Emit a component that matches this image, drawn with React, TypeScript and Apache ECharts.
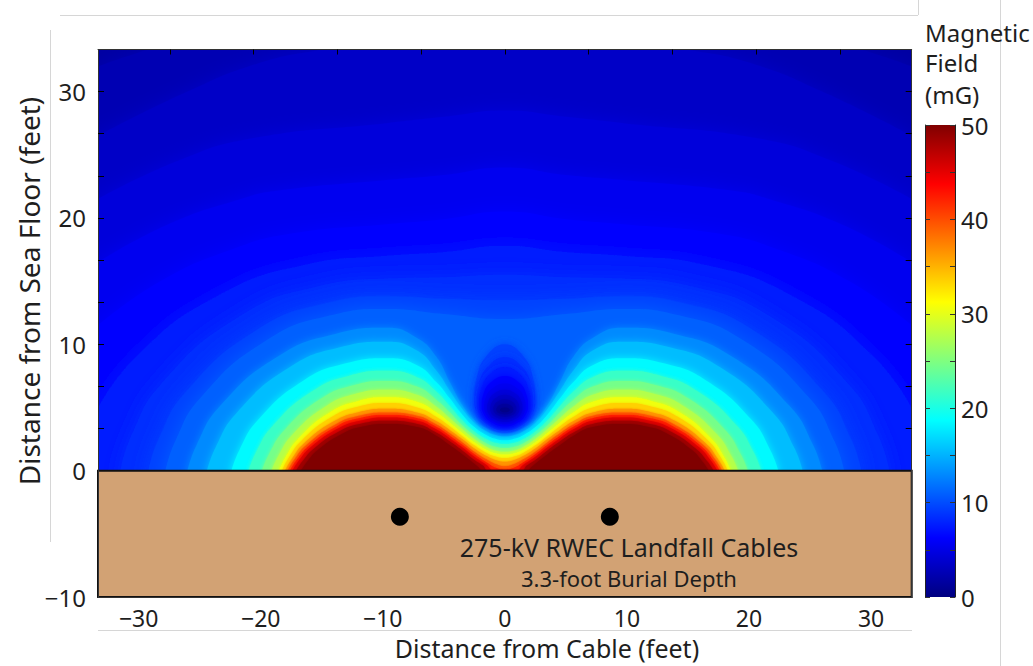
import React, { useEffect, useRef } from "react";
import * as echarts from "echarts";

// ---------- axes ----------
const X_MIN = -33.33;
const X_MAX = 33.33;
const Y_MIN = -10;
const Y_MAX = 33.33;
const xLabelValues = [-30, -20, -10, 0, 10, 20, 30];
const xTickValues = [-27.44, -20.58, -13.72, -6.86, 0, 6.86, 13.72, 20.58, 27.44];
const yLabelValues = [-10, 0, 10, 20, 30];
const yTickValues = [3.333, 6.667, 10, 13.333, 16.667, 20, 23.333, 26.667, 30];
const FIELD_MAX = 50;
const backgroundLevel = 1.7;

// ---------- field contours (mG): [x ft, y ft] ----------
const contourLevels = [2, 3, 4, 5, 6, 7, 8, 9, 10, 12, 14, 17, 20, 23, 26, 29, 32, 35, 38, 41, 44, 47, 50];

const contour2 = [[-33.33, 32], [-30, 33.1], [-28, 33.6], [-20, 36], [0, 38], [20, 36], [28, 33.6], [30, 33.1], [33.33, 32]];
const contour3 = [[-33.33, 26.5], [-26, 30], [-20, 32.3], [-15, 33.33], [-9.7, 34.3], [0, 35], [9.7, 34.3], [15, 33.33], [20, 32.3], [26, 30], [33.33, 26.5]];
const contour4 = [[-33.33, 21.5], [-26.83, 24.5], [-20.7, 26.3], [-9.7, 27.5], [-5, 28], [0, 28.5], [5, 28], [9.7, 27.5], [20.7, 26.3], [26.83, 24.5], [33.33, 21.5]];
const contour5 = [[-33.33, 16.5], [-27.57, 19.5], [-21.63, 21.5], [-18.71, 22.15], [-9.7, 23], [-5, 23.4], [0, 24], [5, 23.4], [9.7, 23], [18.71, 22.15], [21.63, 21.5], [27.57, 19.5], [33.33, 16.5]];
const contour6 = [[-33.33, 11.5], [-28.19, 15], [-22.39, 17.5], [-17.5, 18.76], [-9.7, 19.5], [-5, 19.9], [0, 20.5], [5, 19.9], [9.7, 19.5], [17.5, 18.76], [22.39, 17.5], [28.19, 15], [33.33, 11.5]];
const contour7 = [[-33.33, 5], [-30.24, 9], [-23.99, 13.6], [-16.19, 16.34], [-9.7, 17], [-5, 17.3], [0, 17.8], [5, 17.3], [9.7, 17], [16.19, 16.34], [23.99, 13.6], [30.24, 9], [33.33, 5]];
const contour8 = [[-31.5, 0], [-30.61, 2.74], [-28.17, 6.84], [-21.81, 12.16], [-15.25, 14.6], [-9.7, 15.2], [-5, 15.3], [0, 15.5], [5, 15.3], [9.7, 15.2], [15.25, 14.6], [21.81, 12.16], [28.17, 6.84], [30.61, 2.74], [31.5, 0]];
const contour9 = [[-29.2, 0], [-28.37, 2.48], [-26.16, 6.21], [-20.47, 11.04], [-14.68, 13.24], [-9.7, 13.8], [-5, 13.6], [0, 13.5], [5, 13.6], [9.7, 13.8], [14.68, 13.24], [20.47, 11.04], [26.16, 6.21], [28.37, 2.48], [29.2, 0]];
const contour10 = [[-27.8, 0], [-27.01, 2.3], [-24.93, 5.76], [-19.65, 10.24], [-14.34, 12.28], [-9.7, 12.8], [-5, 12.4], [0, 12.0], [5, 12.4], [9.7, 12.8], [14.34, 12.28], [19.65, 10.24], [24.93, 5.76], [27.01, 2.3], [27.8, 0]];
const contour12 = [[-26, 0], [-25.25, 2.03], [-23.35, 5.09], [-18.6, 9.04], [-13.9, 10.82], [-9.7, 11.3], [-7.2, 10.5], [-5.6, 9.0], [-4.5, 7.0], [-3.5, 5.2], [-2.5, 4.0], [-1.5, 3.35], [-0.7, 3.05], [0, 2.95], [0.7, 3.05], [1.5, 3.35], [2.5, 4.0], [3.5, 5.2], [4.5, 7.0], [5.6, 9.0], [7.2, 10.5], [9.7, 11.3], [13.9, 10.82], [18.6, 9.04], [23.35, 5.09], [25.25, 2.03], [26, 0]];
const contour14 = [[-24.4, 0], [-23.7, 1.84], [-21.96, 4.59], [-17.67, 8.16], [-13.51, 9.76], [-9.7, 10.2], [-7.2, 9.5], [-5.6, 7.9], [-4.5, 6.3], [-3.5, 4.9], [-2.5, 3.8], [-1.5, 3.1], [-0.7, 2.8], [0, 2.7], [0.7, 2.8], [1.5, 3.1], [2.5, 3.8], [3.5, 4.9], [4.5, 6.3], [5.6, 7.9], [7.2, 9.5], [9.7, 10.2], [13.51, 9.76], [17.67, 8.16], [21.96, 4.59], [23.7, 1.84], [24.4, 0]];
const contour17 = [[-22.4, 0], [-21.76, 1.6], [-20.23, 4.0], [-16.52, 7.12], [-13.02, 8.5], [-9.7, 8.9], [-7.2, 8.35], [-5.6, 7.0], [-4.5, 5.7], [-3.5, 4.45], [-2.5, 3.45], [-1.5, 2.8], [-0.7, 2.5], [0, 2.4], [0.7, 2.5], [1.5, 2.8], [2.5, 3.45], [3.5, 4.45], [4.5, 5.7], [5.6, 7.0], [7.2, 8.35], [9.7, 8.9], [13.02, 8.5], [16.52, 7.12], [20.23, 4.0], [21.76, 1.6], [22.4, 0]];
const contour20 = [[-21, 0], [-20.41, 1.42], [-19.01, 3.56], [-15.72, 6.32], [-12.68, 7.53], [-9.7, 7.9], [-7.2, 7.4], [-5.6, 6.25], [-4.5, 5.1], [-3.5, 4.0], [-2.5, 3.1], [-1.5, 2.48], [-0.7, 2.18], [0, 2.1], [0.7, 2.18], [1.5, 2.48], [2.5, 3.1], [3.5, 4.0], [4.5, 5.1], [5.6, 6.25], [7.2, 7.4], [9.7, 7.9], [12.68, 7.53], [15.72, 6.32], [19.01, 3.56], [20.41, 1.42], [21, 0]];
const contour23 = [[-19.9, 0], [-19.34, 1.28], [-18.06, 3.2], [-15.09, 5.68], [-12.41, 6.76], [-9.7, 7.1], [-7.2, 6.65], [-5.6, 5.6], [-4.5, 4.6], [-3.5, 3.6], [-2.5, 2.8], [-1.5, 2.15], [-0.7, 1.88], [0, 1.8], [0.7, 1.88], [1.5, 2.15], [2.5, 2.8], [3.5, 3.6], [4.5, 4.6], [5.6, 5.6], [7.2, 6.65], [9.7, 7.1], [12.41, 6.76], [15.09, 5.68], [18.06, 3.2], [19.34, 1.28], [19.9, 0]];
const contour26 = [[-19.1, 0], [-18.56, 1.15], [-17.37, 2.88], [-14.63, 5.12], [-12.22, 6.08], [-9.7, 6.4], [-7.2, 6.0], [-5.6, 5.05], [-4.5, 4.15], [-3.5, 3.3], [-2.5, 2.5], [-1.5, 1.88], [-0.7, 1.58], [0, 1.5], [0.7, 1.58], [1.5, 1.88], [2.5, 2.5], [3.5, 3.3], [4.5, 4.15], [5.6, 5.05], [7.2, 6.0], [9.7, 6.4], [12.22, 6.08], [14.63, 5.12], [17.37, 2.88], [18.56, 1.15], [19.1, 0]];
const contour29 = [[-18.5, 0], [-17.99, 1.04], [-16.85, 2.61], [-14.29, 4.64], [-12.08, 5.5], [-9.7, 5.8], [-7.2, 5.45], [-5.6, 4.6], [-4.5, 3.8], [-3.5, 3.0], [-2.5, 2.25], [-1.5, 1.65], [-0.7, 1.36], [0, 1.28], [0.7, 1.36], [1.5, 1.65], [2.5, 2.25], [3.5, 3.0], [4.5, 3.8], [5.6, 4.6], [7.2, 5.45], [9.7, 5.8], [12.08, 5.5], [14.29, 4.64], [16.85, 2.61], [17.99, 1.04], [18.5, 0]];
const contour32 = [[-18.25, 0], [-17.74, 0.96], [-16.62, 2.41], [-14.13, 4.28], [-12.04, 5.06], [-9.7, 5.35], [-7.2, 5.0], [-5.6, 4.25], [-4.5, 3.5], [-3.5, 2.75], [-2.5, 2.0], [-1.5, 1.4], [-0.7, 1.1], [0, 1.0], [0.7, 1.1], [1.5, 1.4], [2.5, 2.0], [3.5, 2.75], [4.5, 3.5], [5.6, 4.25], [7.2, 5.0], [9.7, 5.35], [12.04, 5.06], [14.13, 4.28], [16.62, 2.41], [17.74, 0.96], [18.25, 0]];
const contour35 = [[-18, 0], [-17.48, 0.88], [-16.4, 2.2], [-13.97, 3.92], [-11.99, 4.63], [-9.7, 4.9], [-7.2, 4.6], [-5.6, 3.9], [-4.5, 3.2], [-3.5, 2.5], [-2.5, 1.75], [-1.5, 1.15], [-0.7, 0.82], [0, 0.7], [0.7, 0.82], [1.5, 1.15], [2.5, 1.75], [3.5, 2.5], [4.5, 3.2], [5.6, 3.9], [7.2, 4.6], [9.7, 4.9], [11.99, 4.63], [13.97, 3.92], [16.4, 2.2], [17.48, 0.88], [18, 0]];
const contour38 = [[-17.8, 0], [-17.29, 0.83], [-16.22, 2.07], [-13.85, 3.68], [-11.96, 4.34], [-9.7, 4.6], [-7.2, 4.35], [-5.6, 3.65], [-4.5, 2.95], [-3.5, 2.25], [-2.5, 1.5], [-1.5, 0.9], [-0.7, 0.5], [0, 0.35], [0.7, 0.5], [1.5, 0.9], [2.5, 1.5], [3.5, 2.25], [4.5, 2.95], [5.6, 3.65], [7.2, 4.35], [9.7, 4.6], [11.96, 4.34], [13.85, 3.68], [16.22, 2.07], [17.29, 0.83], [17.8, 0]];
const contour41 = [[-17.6, 0], [-17.1, 0.79], [-16.04, 1.98], [-13.74, 3.52], [-11.91, 4.14], [-9.7, 4.4], [-7.2, 4.15], [-5.6, 3.45], [-4.5, 2.75], [-3.5, 2.05], [-2.5, 1.3], [-1.5, 0.65], [-0.7, 0.2], [0, 0.05], [0.7, 0.2], [1.5, 0.65], [2.5, 1.3], [3.5, 2.05], [4.5, 2.75], [5.6, 3.45], [7.2, 4.15], [9.7, 4.4], [11.91, 4.14], [13.74, 3.52], [16.04, 1.98], [17.1, 0.79], [17.6, 0]];
const contour44 = [[-17.4, 0], [-16.9, 0.76], [-15.86, 1.89], [-13.62, 3.36], [-11.87, 3.95], [-9.7, 4.2], [-7.2, 3.95], [-5.6, 3.25], [-4.5, 2.55], [-3.5, 1.85], [-2.5, 1.1], [-1.5, 0.45], [-0.9, 0], [0, 0], [0.9, 0], [1.5, 0.45], [2.5, 1.1], [3.5, 1.85], [4.5, 2.55], [5.6, 3.25], [7.2, 3.95], [9.7, 4.2], [11.87, 3.95], [13.62, 3.36], [15.86, 1.89], [16.9, 0.76], [17.4, 0]];
const contour47 = [[-17.1, 0], [-16.61, 0.71], [-15.6, 1.78], [-13.46, 3.16], [-11.8, 3.71], [-9.7, 3.95], [-7.2, 3.7], [-5.6, 3.0], [-4.5, 2.3], [-3.5, 1.6], [-2.5, 0.85], [-1.8, 0.4], [-1.4, 0], [0, 0], [1.4, 0], [1.8, 0.4], [2.5, 0.85], [3.5, 1.6], [4.5, 2.3], [5.6, 3.0], [7.2, 3.7], [9.7, 3.95], [11.8, 3.71], [13.46, 3.16], [15.6, 1.78], [16.61, 0.71], [17.1, 0]];
const contour50 = [[-16.7, 0], [-16.23, 0.67], [-15.27, 1.67], [-13.23, 2.96], [-11.71, 3.47], [-9.7, 3.7], [-7.2, 3.45], [-5.6, 2.75], [-4.5, 2.0], [-3.5, 1.3], [-2.5, 0.55], [-2.2, 0.3], [-1.8, 0], [0, 0], [1.8, 0], [2.2, 0.3], [2.5, 0.55], [3.5, 1.3], [4.5, 2.0], [5.6, 2.75], [7.2, 3.45], [9.7, 3.7], [11.71, 3.47], [13.23, 2.96], [15.27, 1.67], [16.23, 0.67], [16.7, 0]];

const contourLines = [contour2, contour3, contour4, contour5, contour6, contour7, contour8, contour9, contour10, contour12, contour14, contour17, contour20, contour23, contour26, contour29, contour32, contour35, contour38, contour41, contour44, contour47, contour50];

// ---------- low-field pocket above the cables (closed contours around the null) ----------
const holeLevels = [10, 9, 8, 7, 6, 5, 4, 3, 2, 1];
const holeBottom = [3.2, 3.3, 3.4, 3.5, 3.65, 3.85, 4.05, 4.25, 4.45, 4.62];
const holeTop = [10, 9, 8.2, 7.5, 6.9, 6.4, 6.0, 5.65, 5.3, 5.0];
const holeHalfWidth = [2.5, 2.3, 2.1, 1.9, 1.7, 1.45, 1.2, 0.95, 0.7, 0.4];
const holeWidestAt = [5.6, 5.4, 5.3, 5.15, 5.05, 4.95, 4.9, 4.85, 4.82, 4.8];
const holeCenterX = 0;

// ---------- sea floor / cables ----------
const soilTop = 0;
const soilBottom = -10;
const cablePositions = [[-8.6, -3.65], [8.6, -3.65]];

const FONT = "'Noto Sans', 'Open Sans', sans-serif";
const TEXT = "#1e1e1e";
const SOIL = "#d2a274";

function jet(v: number): string {
  const t = Math.max(0, Math.min(1, v / FIELD_MAX));
  const c = (x: number) => Math.max(0, Math.min(1, 1.5 - Math.abs(x)));
  const r = c(4 * t - 3);
  const g = c(4 * t - 2);
  const b = c(4 * t - 1);
  return `rgb(${Math.round(r * 255)},${Math.round(g * 255)},${Math.round(b * 255)})`;
}

const jetStops = [0, 0.125, 0.375, 0.625, 0.875, 1].map((t) => ({ offset: t, color: jet(t * FIELD_MAX) }));

const minusFmt = (v: number) => (v < 0 ? "\u2212" + Math.abs(v) : String(v));

function featherFor(level: number): number {
  if (level <= 10) return 18;
  if (level <= 17) return 8;
  if (level <= 29) return 4;
  return 2;
}

function buildOption(): any {
  const areaSeries = contourLevels.map((L, i) => {
    const next = i + 1 < contourLevels.length ? contourLevels[i + 1] : FIELD_MAX;
    const col = jet(i + 1 < contourLevels.length ? (L + next) / 2 : FIELD_MAX);
    return {
      type: "line",
      xAxisIndex: 0,
      yAxisIndex: 0,
      data: contourLines[i],
      smooth: 0.5,
      symbol: "none",
      silent: true,
      clip: true,
      z: 2,
      itemStyle: { color: col },
      lineStyle: { width: 0, color: col },
      areaStyle: { color: col, opacity: 1, origin: "start", shadowBlur: featherFor(L), shadowColor: col },
    };
  });

  const holeData = holeLevels.map((L, i) => [holeBottom[i], holeTop[i], holeHalfWidth[i], holeWidestAt[i], L]);

  const holeSeries = {
    type: "custom",
    xAxisIndex: 0,
    yAxisIndex: 0,
    silent: true,
    clip: true,
    z: 3,
    data: holeData,
    encode: { x: -1, y: -1 },
    renderItem: (params: any, api: any) => {
      const yb = api.value(0);
      const yt = api.value(1);
      const w = api.value(2);
      const yw = api.value(3);
      const L = api.value(4);
      const cx = holeCenterX;
      const left = [
        [cx, yb],
        [cx - 0.66 * w, yb + 0.25 * (yw - yb)],
        [cx - 0.94 * w, yb + 0.65 * (yw - yb)],
        [cx - w, yw],
        [cx - 0.94 * w, yw + 0.35 * (yt - yw)],
        [cx - 0.66 * w, yw + 0.75 * (yt - yw)],
        [cx, yt],
      ];
      const right = left.slice(1, -1).reverse().map(([x, y]) => [2 * cx - x, y]);
      const pts = [...left, ...right].map((p) => api.coord(p));
      const col = jet(L - 0.5);
      return {
        type: "polygon",
        shape: { points: pts, smooth: 0.45 },
        style: { fill: col, stroke: null, shadowBlur: L >= 6 ? 8 : 5, shadowColor: col },
      };
    },
  };

  const soilSeries = {
    type: "custom",
    xAxisIndex: 0,
    yAxisIndex: 0,
    silent: true,
    z: 4,
    data: [[X_MIN, soilBottom, X_MAX, soilTop]],
    encode: { x: -1, y: -1 },
    renderItem: (params: any, api: any) => {
      const p1 = api.coord([api.value(0), api.value(3)]);
      const p2 = api.coord([api.value(2), api.value(1)]);
      return {
        type: "rect",
        shape: { x: p1[0], y: p1[1], width: p2[0] - p1[0], height: p2[1] - p1[1] },
        style: { fill: SOIL, stroke: "#111", lineWidth: 2 },
      };
    },
  };

  const cableSeries = {
    type: "scatter",
    xAxisIndex: 0,
    yAxisIndex: 0,
    data: cablePositions,
    symbol: "circle",
    symbolSize: 18,
    itemStyle: { color: "#000", opacity: 1 },
    silent: true,
    z: 6,
  };

  const colorbarSeries = {
    type: "bar",
    xAxisIndex: 2,
    yAxisIndex: 2,
    data: [FIELD_MAX],
    barWidth: "100%",
    silent: true,
    itemStyle: { color: new echarts.graphic.LinearGradient(0, 1, 0, 0, jetStops) },
    z: 2,
  };

  const frameLine = { show: true, onZero: false, lineStyle: { color: "#333", width: 1 } };
  const tickStyle = { color: "#000", width: 1 };
  const labelStyle = { fontSize: 23, color: TEXT, fontFamily: FONT };

  const grayLine = (x1: number, y1: number, x2: number, y2: number) => ({
    type: "line",
    shape: { x1, y1, x2, y2 },
    style: { stroke: "#d6d6d6", lineWidth: 1 },
    silent: true,
    z: 0,
  });

  const textEl = (text: string, x: number, y: number, fontSize: number, align: string, rotation = 0) => ({
    type: "text",
    x,
    y,
    rotation,
    silent: true,
    z: 20,
    style: { text, fontSize, fontFamily: FONT, fill: TEXT, align, verticalAlign: "middle" },
  });

  return {
    animation: false,
    backgroundColor: "#ffffff",
    textStyle: { fontFamily: FONT },
    grid: [
      { left: 98, top: 49.5, width: 813.7, height: 547.5, show: true, backgroundColor: jet(backgroundLevel), borderWidth: 0 },
      { left: 925, top: 125, width: 30, height: 472 },
    ],
    xAxis: [
      {
        gridIndex: 0,
        type: "value",
        min: X_MIN,
        max: X_MAX,
        position: "bottom",
        z: 10,
        axisLine: frameLine,
        axisTick: { show: false },
        splitLine: { show: false },
        axisLabel: { ...labelStyle, margin: 9, customValues: xLabelValues, formatter: minusFmt },
      },
      {
        gridIndex: 0,
        type: "value",
        min: X_MIN,
        max: X_MAX,
        position: "top",
        z: 10,
        axisLine: frameLine,
        axisTick: { show: true, inside: true, length: 5, lineStyle: tickStyle, customValues: xTickValues },
        axisLabel: { show: false },
        splitLine: { show: false },
      },
      {
        gridIndex: 1,
        type: "category",
        data: [""],
        show: false,
      },
    ],
    yAxis: [
      {
        gridIndex: 0,
        type: "value",
        min: Y_MIN,
        max: Y_MAX,
        position: "left",
        z: 10,
        axisLine: frameLine,
        axisTick: { show: true, inside: true, length: 6, lineStyle: tickStyle, customValues: yTickValues },
        axisLabel: { ...labelStyle, fontSize: 24, margin: 12, customValues: yLabelValues, formatter: minusFmt },
        splitLine: { show: false },
      },
      {
        gridIndex: 0,
        type: "value",
        min: Y_MIN,
        max: Y_MAX,
        position: "right",
        z: 10,
        axisLine: frameLine,
        axisTick: { show: true, inside: true, length: 6, lineStyle: tickStyle, customValues: yTickValues },
        axisLabel: { show: false },
        splitLine: { show: false },
      },
      {
        gridIndex: 1,
        type: "value",
        min: 0,
        max: FIELD_MAX,
        interval: 5,
        position: "right",
        z: 10,
        axisLine: { show: true, onZero: false, lineStyle: { color: "#222", width: 1 } },
        axisTick: { show: true, inside: true, length: 5, lineStyle: { color: "#333", width: 1 } },
        axisLabel: { ...labelStyle, fontSize: 24, margin: 6, formatter: (v: number) => (v % 10 === 0 ? String(v) : "") },
        splitLine: { show: false },
      },
      {
        gridIndex: 1,
        type: "value",
        min: 0,
        max: FIELD_MAX,
        interval: 5,
        position: "left",
        z: 10,
        axisLine: { show: true, onZero: false, lineStyle: { color: "#222", width: 1 } },
        axisTick: { show: true, inside: true, length: 5, lineStyle: { color: "#333", width: 1 } },
        axisLabel: { show: false },
        splitLine: { show: false },
      },
    ],
    series: [...areaSeries, holeSeries, soilSeries, cableSeries, colorbarSeries],
    graphic: [
      grayLine(60, 15.5, 918, 15.5),
      grayLine(918.5, 0, 918.5, 15),
      grayLine(50.5, 30, 50.5, 542),
      grayLine(98, 630.5, 912, 630.5),
      grayLine(1000.5, 0, 1000.5, 666),
      textEl("Magnetic", 925, 32, 24, "left"),
      textEl("Field", 925, 62, 24, "left"),
      textEl("(mG)", 925, 94, 24, "left"),
      textEl("Distance from Cable (feet)", 547, 648, 25, "center"),
      textEl("Distance from Sea Floor (feet)", 28.5, 291, 28, "center", Math.PI / 2),
      textEl("275-kV RWEC Landfall Cables", 629, 547, 25, "center"),
      textEl("3.3-foot Burial Depth", 629, 578, 22, "center"),
    ],
  };
}

export default function App() {
  const ref = useRef<HTMLDivElement>(null);
  useEffect(() => {
    if (!ref.current) return;
    const chart = echarts.init(ref.current, null, { renderer: "svg" });
    chart.setOption(buildOption());
    return () => {
      chart.dispose();
    };
  }, []);
  return (
    <div
      ref={ref}
      style={{ position: "fixed", left: 0, top: 0, width: 1033, height: 666, background: "#fff" }}
    />
  );
}
